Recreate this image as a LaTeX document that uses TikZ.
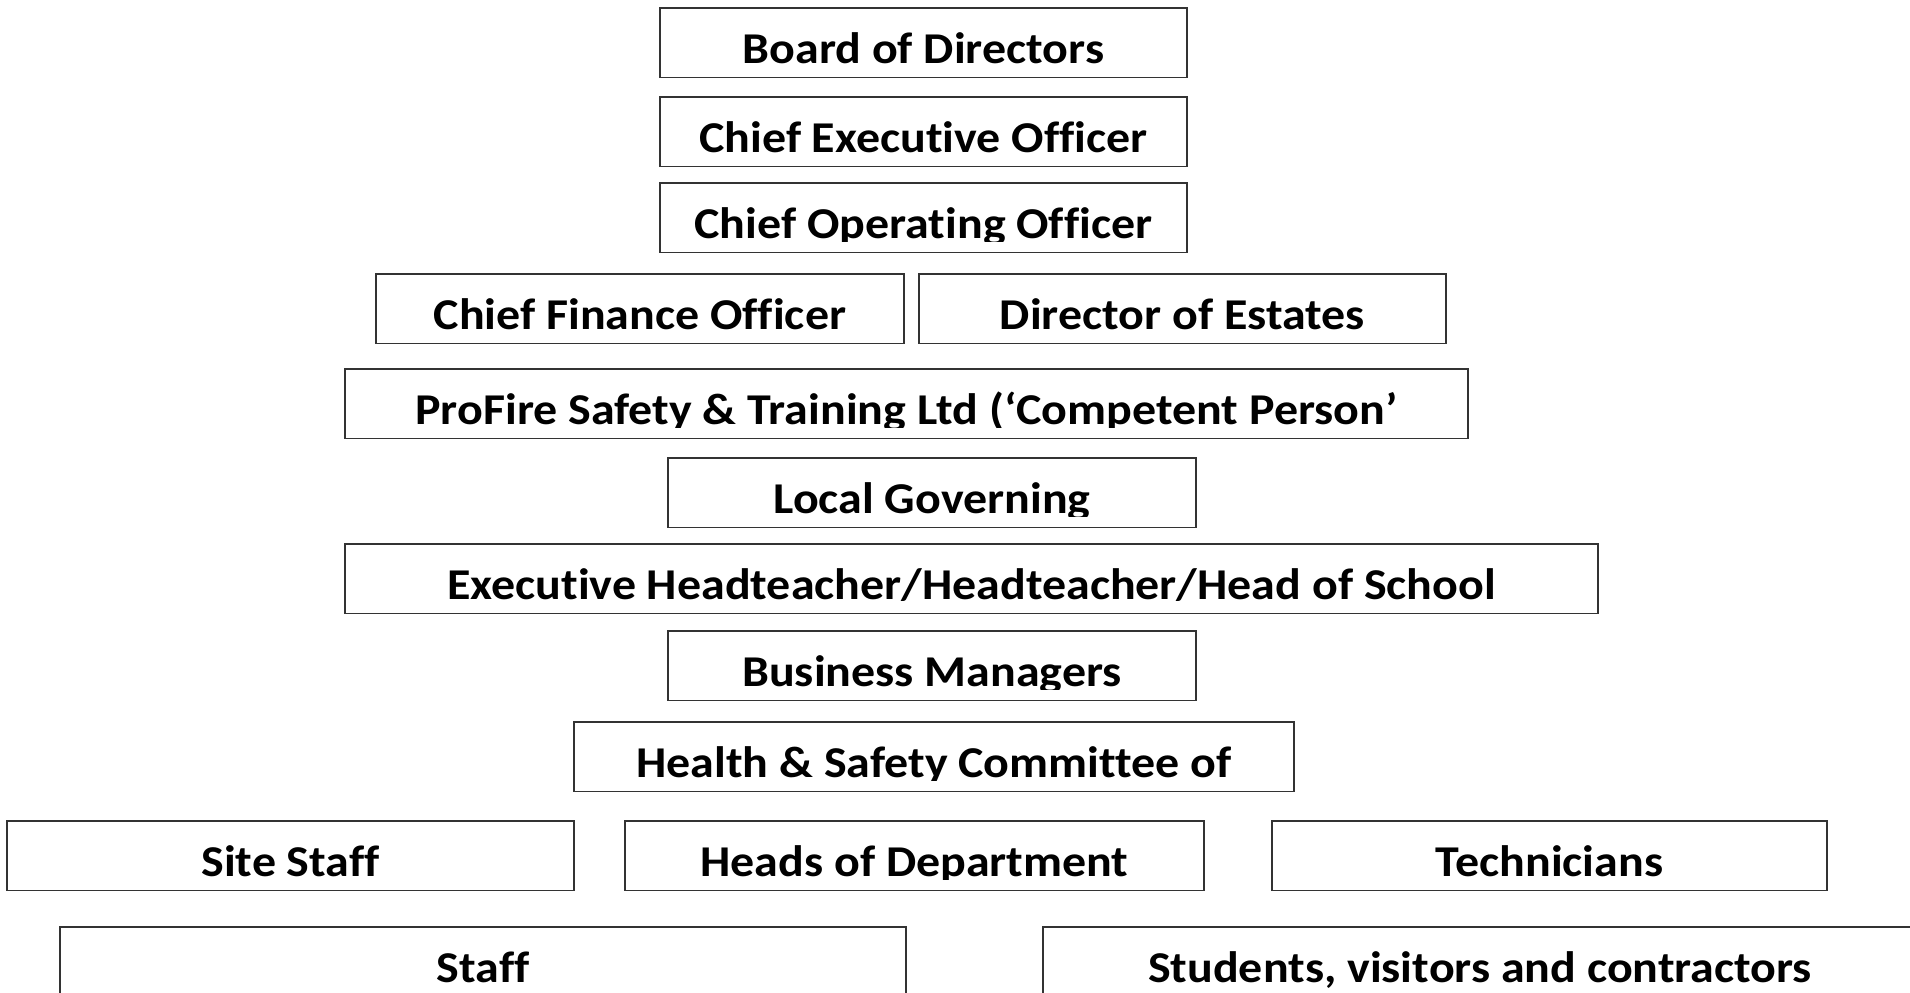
\documentclass[tikz,border=0pt]{standalone}
\usepackage{fontspec}
\setmainfont{Carlito}[Ligatures=NoCommon,FakeStretch=1.09]
\usepackage{tikz}

\begin{document}
\begin{tikzpicture}[x=0.5pt,y=-0.5pt,
    box/.style={draw=black!80,line width=0.8pt,rectangle,inner xsep=0pt,inner ysep=0pt,
      text height=27.5pt,text depth=7pt,font=\bfseries\fontsize{22}{26}\selectfont}]
            \clip (0,0) rectangle (1910,992);
            \draw (923.5,42.5)  node[box,minimum width=263.5pt] (board) {Board of Directors};
            \draw (923.5,131.5) node[box,minimum width=263.5pt] (ceo) {Chief Executive Officer};
            \draw (923.5,217.5) node[box,minimum width=263.5pt] (coo) {Chief Operating Officer};
            \draw (640,308.5)   node[box,minimum width=264pt] (cfo) {Chief Finance Officer};
            \draw (1182.5,308.5) node[box,minimum width=263.5pt] (doe) {Director of Estates};
            \draw (906.5,403.5) node[box,minimum width=561.5pt] (profire) {ProFire Safety \& Training Ltd (‘Competent Person’};
            \draw (932,492.5)   node[box,minimum width=264pt] (lgb) {Local Governing};
            \draw (971.5,578.5) node[box,minimum width=626.5pt] (head) {Executive Headteacher/Headteacher/Head of School};
            \draw (932,665.5)   node[box,minimum width=264pt] (bm) {Business Managers};
            \draw (934,756.5)   node[box,minimum width=360pt] (hsc) {Health \& Safety Committee of};
            \draw (290.5,855.5) node[box,minimum width=283.5pt] (site) {Site Staff};
            \draw (914.5,855.5) node[box,minimum width=289.5pt] (hod) {Heads of Department};
            \draw (1549.5,855.5) node[box,minimum width=277.5pt] (tech) {Technicians};
            \draw (483,961.5)   node[box,minimum width=423pt] (staff) {Staff};
            \draw (1480,961.5)  node[box,minimum width=437pt] (visitors) {Students, visitors and contractors};
            % text is cut just under its baseline
            \foreach \n in {board,ceo,coo,cfo,doe,profire,lgb,head,bm,hsc,site,hod,tech}
              \fill[white] ([xshift=0.8pt,yshift=0.5pt]\n.south west) rectangle ([xshift=-0.8pt,yshift=5.5pt]\n.south east);
        \end{tikzpicture}
\end{document}
